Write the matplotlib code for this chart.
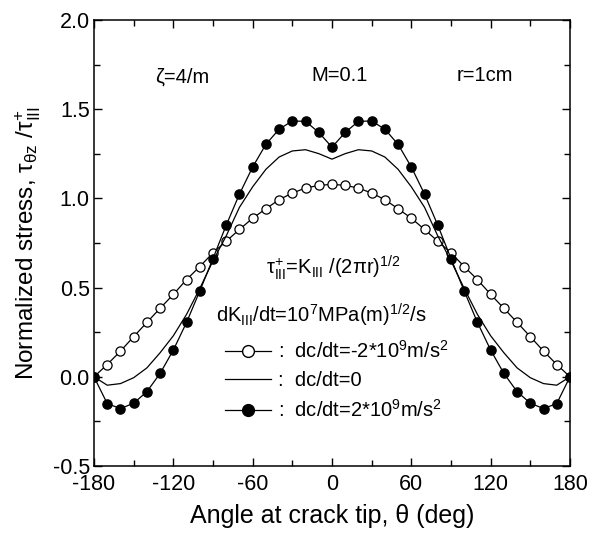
import matplotlib
matplotlib.use("Agg")
import matplotlib.pyplot as plt
from matplotlib.lines import Line2D
from matplotlib.ticker import MultipleLocator, FuncFormatter

plt.rcParams['font.family'] = ['Liberation Sans', 'DejaVu Sans']
plt.rcParams['mathtext.fontset'] = 'custom'
plt.rcParams['mathtext.rm'] = 'Liberation Sans'
plt.rcParams['mathtext.it'] = 'Liberation Sans:italic'
plt.rcParams['mathtext.cal'] = 'Liberation Serif'

theta = [-180, -170, -160, -150, -140, -130, -120, -110, -100, -90,
         -80, -70, -60, -50, -40, -30, -20, -10, 0,
         10, 20, 30, 40, 50, 60, 70, 80, 90,
         100, 110, 120, 130, 140, 150, 160, 170, 180]

half_open = [0.0, 0.069, 0.144, 0.225, 0.305, 0.384, 0.462, 0.545, 0.618, 0.695,
             0.760, 0.826, 0.889, 0.942, 0.993, 1.030, 1.058, 1.073, 1.079]
half_solid = [0.0, -0.047, -0.038, -0.005, 0.050, 0.135, 0.230, 0.350, 0.495, 0.650,
              0.790, 0.950, 1.065, 1.163, 1.232, 1.266, 1.273, 1.251, 1.220]
half_filled = [0.0, -0.150, -0.178, -0.148, -0.083, 0.019, 0.150, 0.305, 0.481, 0.663,
               0.850, 1.024, 1.176, 1.303, 1.388, 1.434, 1.432, 1.370, 1.287]

open_vals = half_open + half_open[-2::-1]
solid_vals = half_solid + half_solid[-2::-1]
filled_vals = half_filled + half_filled[-2::-1]

legend_labels = [r':  dc/dt=-2*10$^{9}$m/s$^{2}$', ':  dc/dt=0', r':  dc/dt=2*10$^{9}$m/s$^{2}$']

fig = plt.figure(figsize=(5.89, 5.38), dpi=100)
ax = fig.add_axes([0.1596, 0.1338, 0.8081, 0.8290])

lw = 0.9
ms = 6.6
ax.plot(theta, open_vals, '-o', color='black', mfc='white', mec='black',
        lw=lw, ms=ms, mew=0.9)
ax.plot(theta, solid_vals, '-', color='black', lw=lw)
ax.plot(theta, filled_vals, '-o', color='black', mfc='black', mec='black',
        lw=lw, ms=ms)

ax.set_xlim(-180, 180)
ax.set_ylim(-0.5, 2.0)
ax.xaxis.set_major_locator(MultipleLocator(60))
ax.xaxis.set_minor_locator(MultipleLocator(30))
ax.yaxis.set_major_locator(MultipleLocator(0.5))
ax.yaxis.set_minor_locator(MultipleLocator(0.25))
ax.xaxis.set_major_formatter(FuncFormatter(lambda v, p: f"{v:.0f}"))
ax.yaxis.set_major_formatter(FuncFormatter(lambda v, p: f"{v:.1f}"))
ax.tick_params(which='both', direction='in', top=True, right=True, labelsize=15.5, width=1.0)
ax.tick_params(which='major', length=6)
ax.tick_params(axis='x', which='major', pad=6)
ax.tick_params(axis='y', which='major', pad=3)
ax.tick_params(which='minor', length=4)
for s in ax.spines.values():
    s.set_linewidth(1.1)

ax.set_xlabel('Angle at crack tip, θ (deg)', fontsize=18, labelpad=6)
ax.set_ylabel(r'Normalized stress, $\mathrm{\tau}_{\mathrm{\theta z}}$ /$\mathrm{\tau}^{+}_{\mathrm{III}}$',
              fontsize=17.5, labelpad=7)

ax.text(-113.5, 1.68, 'ζ=4/m', fontsize=14.5, ha='center', va='center')
ax.text(6, 1.69, 'M=0.1', fontsize=14.5, ha='center', va='center')
ax.text(116, 1.69, 'r=1cm', fontsize=14.5, ha='center', va='center')
ax.text(1, 0.61, r'$\mathrm{\tau}^{+}_{\mathrm{III}}$=K$_{\mathrm{III}}$ /(2$\mathrm{\pi}$r)$^{1/2}$',
        fontsize=14.5, ha='center', va='center')
ax.text(-88, 0.345, r'dK$_{\mathrm{III}}$/dt=10$^{7}$MPa(m)$^{1/2}$/s',
        fontsize=14.5, ha='left', va='center')

handles = [
    Line2D([], [], color='black', lw=lw, marker='o', mfc='white', mec='black', ms=8.5),
    Line2D([], [], color='black', lw=lw),
    Line2D([], [], color='black', lw=lw, marker='o', mfc='black', mec='black', ms=8.5),
]
leg = ax.legend(handles, legend_labels, loc='upper left', bbox_to_anchor=(0.275, 0.283),
                frameon=False, fontsize=14.5, handlelength=2.3, handletextpad=0.35,
                labelspacing=0.45, borderaxespad=0, borderpad=0)

fig.savefig('out.png', dpi=100)
